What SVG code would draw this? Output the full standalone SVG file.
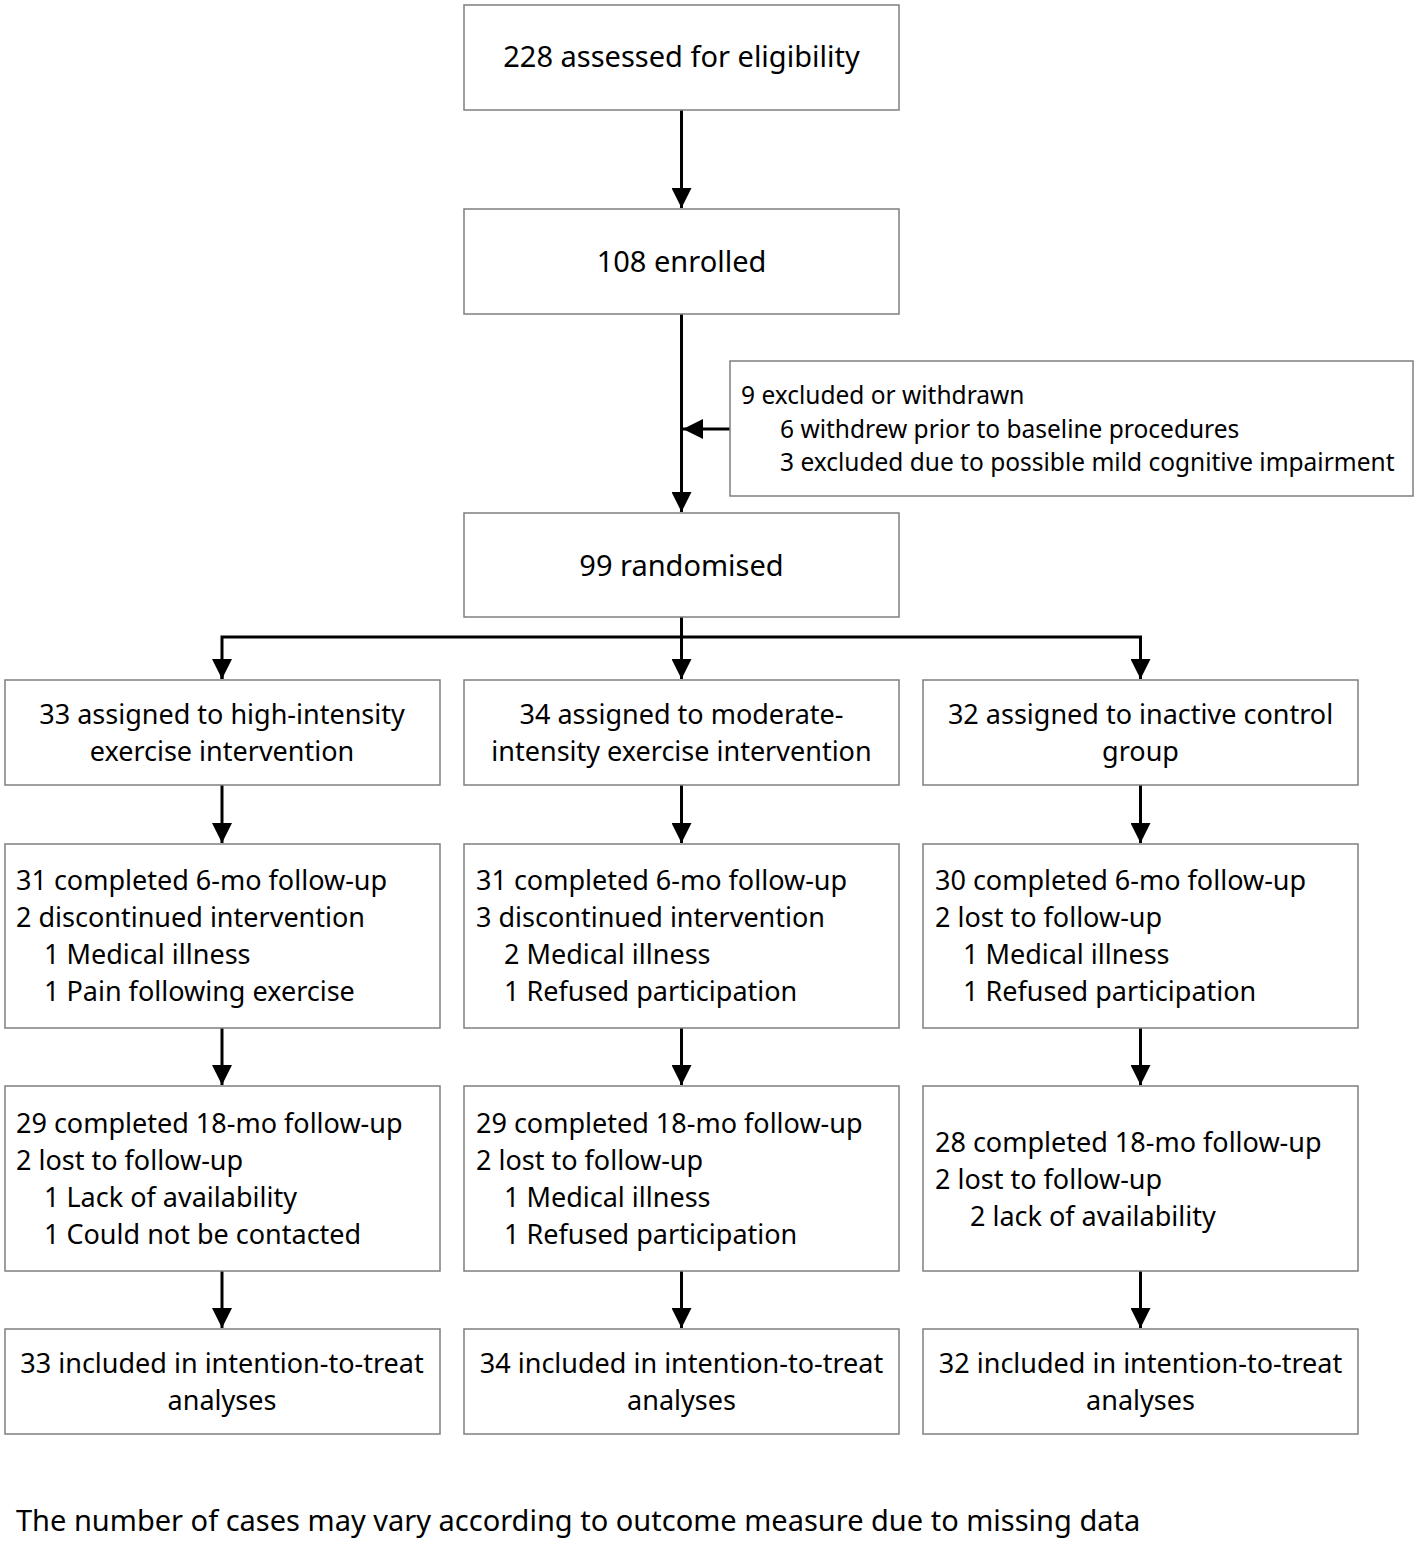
<svg xmlns="http://www.w3.org/2000/svg" width="1418" height="1541" viewBox="0 0 1418 1541">
<style>
.box{fill:#fff;stroke:#7f7f7f;stroke-width:1.5}
.t{font-family:"Noto Sans","Open Sans",sans-serif;font-size:27px;fill:#000}
.l{font-size:29px}
.s{font-size:24.5px}
.c{text-anchor:middle}
.ln{stroke:#000;stroke-width:3;fill:none}
</style>
<defs>
<marker id="ah" markerUnits="userSpaceOnUse" markerWidth="20" markerHeight="20" refX="20" refY="10" orient="auto" viewBox="0 0 20 20">
<path d="M0,0 L20,10 L0,20 Z" fill="#000"/>
</marker>
</defs>
<rect width="1418" height="1541" fill="#fff"/>
<g id="connectors">
<line class="ln" x1="681.5" y1="110" x2="681.5" y2="208" marker-end="url(#ah)"/>
<line class="ln" x1="681.5" y1="314" x2="681.5" y2="512" marker-end="url(#ah)"/>
<line class="ln" x1="730" y1="429" x2="683" y2="429" marker-end="url(#ah)"/>
<line class="ln" x1="681.5" y1="617" x2="681.5" y2="679" marker-end="url(#ah)"/>
<polyline class="ln" points="222,679 222,637 1140.5,637 1140.5,679"/>
<line class="ln" x1="222" y1="660" x2="222" y2="679" marker-end="url(#ah)"/>
<line class="ln" x1="1140.5" y1="660" x2="1140.5" y2="679" marker-end="url(#ah)"/>
<line class="ln" x1="222" y1="785" x2="222" y2="843" marker-end="url(#ah)"/>
<line class="ln" x1="681.5" y1="785" x2="681.5" y2="843" marker-end="url(#ah)"/>
<line class="ln" x1="1140.5" y1="785" x2="1140.5" y2="843" marker-end="url(#ah)"/>
<line class="ln" x1="222" y1="1028" x2="222" y2="1085" marker-end="url(#ah)"/>
<line class="ln" x1="681.5" y1="1028" x2="681.5" y2="1085" marker-end="url(#ah)"/>
<line class="ln" x1="1140.5" y1="1028" x2="1140.5" y2="1085" marker-end="url(#ah)"/>
<line class="ln" x1="222" y1="1271" x2="222" y2="1328" marker-end="url(#ah)"/>
<line class="ln" x1="681.5" y1="1271" x2="681.5" y2="1328" marker-end="url(#ah)"/>
<line class="ln" x1="1140.5" y1="1271" x2="1140.5" y2="1328" marker-end="url(#ah)"/>
</g>
<g id="assessed"><rect class="box" x="464" y="5" width="435" height="105"/><text class="t l c" x="681.5" y="67">228 assessed for eligibility</text></g>
<g id="enrolled"><rect class="box" x="464" y="209" width="435" height="105"/><text class="t l c" x="681.5" y="272">108 enrolled</text></g>
<g id="excluded"><rect class="box" x="730" y="361" width="683" height="135"/>
<text class="t s" x="741" y="404">9 excluded or withdrawn</text>
<text class="t s" x="780" y="438">6 withdrew prior to baseline procedures</text>
<text class="t s" x="780" y="471">3 excluded due to possible mild cognitive impairment</text></g>
<g id="randomised"><rect class="box" x="464" y="513" width="435" height="104"/><text class="t l c" x="681.5" y="576">99 randomised</text></g>

<g id="assign-high"><rect class="box" x="5" y="680" width="435" height="105"/>
<text class="t c" x="222" y="724">33 assigned to high-intensity</text><text class="t c" x="222" y="761">exercise intervention</text></g>
<g id="assign-mod"><rect class="box" x="464" y="680" width="435" height="105"/>
<text class="t c" x="681.5" y="724">34 assigned to moderate-</text><text class="t c" x="681.5" y="761">intensity exercise intervention</text></g>
<g id="assign-ctrl"><rect class="box" x="923" y="680" width="435" height="105"/>
<text class="t c" x="1140.5" y="724">32 assigned to inactive control</text><text class="t c" x="1140.5" y="761">group</text></g>

<g id="fu6-high"><rect class="box" x="5" y="844" width="435" height="184"/>
<text class="t" x="16" y="890">31 completed 6-mo follow-up</text>
<text class="t" x="16" y="927">2 discontinued intervention</text>
<text class="t" x="44" y="964">1 Medical illness</text>
<text class="t" x="44" y="1001">1 Pain following exercise</text></g>
<g id="fu6-mod"><rect class="box" x="464" y="844" width="435" height="184"/>
<text class="t" x="476" y="890">31 completed 6-mo follow-up</text>
<text class="t" x="476" y="927">3 discontinued intervention</text>
<text class="t" x="504" y="964">2 Medical illness</text>
<text class="t" x="504" y="1001">1 Refused participation</text></g>
<g id="fu6-ctrl"><rect class="box" x="923" y="844" width="435" height="184"/>
<text class="t" x="935" y="890">30 completed 6-mo follow-up</text>
<text class="t" x="935" y="927">2 lost to follow-up</text>
<text class="t" x="963" y="964">1 Medical illness</text>
<text class="t" x="963" y="1001">1 Refused participation</text></g>

<g id="fu18-high"><rect class="box" x="5" y="1086" width="435" height="185"/>
<text class="t" x="16" y="1133">29 completed 18-mo follow-up</text>
<text class="t" x="16" y="1170">2 lost to follow-up</text>
<text class="t" x="44" y="1207">1 Lack of availability</text>
<text class="t" x="44" y="1244">1 Could not be contacted</text></g>
<g id="fu18-mod"><rect class="box" x="464" y="1086" width="435" height="185"/>
<text class="t" x="476" y="1133">29 completed 18-mo follow-up</text>
<text class="t" x="476" y="1170">2 lost to follow-up</text>
<text class="t" x="504" y="1207">1 Medical illness</text>
<text class="t" x="504" y="1244">1 Refused participation</text></g>
<g id="fu18-ctrl"><rect class="box" x="923" y="1086" width="435" height="185"/>
<text class="t" x="935" y="1152">28 completed 18-mo follow-up</text>
<text class="t" x="935" y="1189">2 lost to follow-up</text>
<text class="t" x="970" y="1226">2 lack of availability</text></g>

<g id="itt-high"><rect class="box" x="5" y="1329" width="435" height="105"/>
<text class="t c" x="222" y="1373">33 included in intention-to-treat</text><text class="t c" x="222" y="1410">analyses</text></g>
<g id="itt-mod"><rect class="box" x="464" y="1329" width="435" height="105"/>
<text class="t c" x="681.5" y="1373">34 included in intention-to-treat</text><text class="t c" x="681.5" y="1410">analyses</text></g>
<g id="itt-ctrl"><rect class="box" x="923" y="1329" width="435" height="105"/>
<text class="t c" x="1140.5" y="1373">32 included in intention-to-treat</text><text class="t c" x="1140.5" y="1410">analyses</text></g>

<text class="t l" x="16" y="1531">The number of cases may vary according to outcome measure due to missing data</text>
</svg>
